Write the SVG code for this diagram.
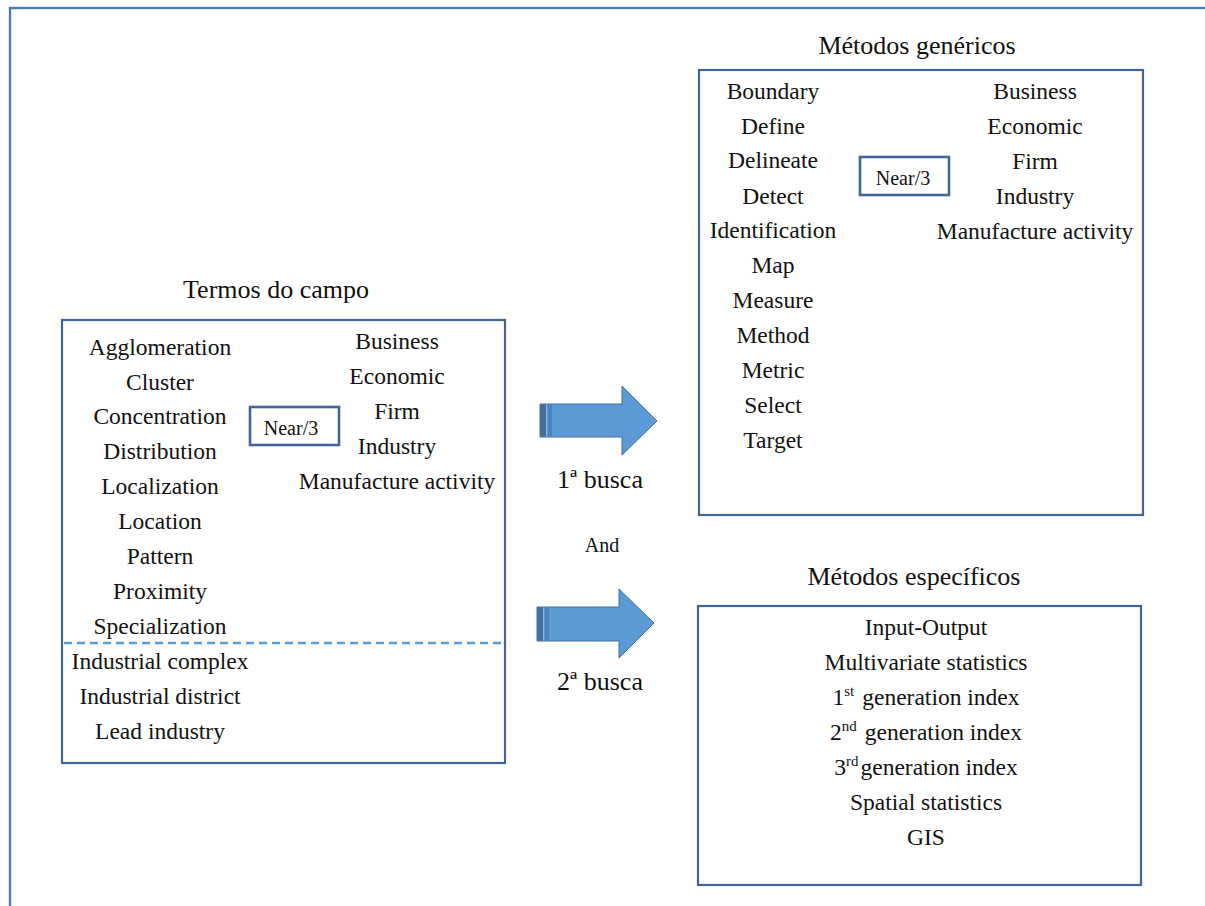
<svg xmlns="http://www.w3.org/2000/svg" width="1205" height="906" viewBox="0 0 1205 906">
<style>
.box{fill:#fff;stroke:#41659a;stroke-width:2.2}
.nbox{fill:#fff;stroke:#41659a;stroke-width:2.6}
text{font-family:'Liberation Serif','DejaVu Serif',serif;fill:#111;text-anchor:middle}
.t{font-size:23.5px}
.ti{font-size:26px}
.s{font-size:20px}
.arrow{fill:#5b9bd5;stroke:#41719c;stroke-width:1}
.stub{fill:#41719c}
</style>
<rect width="1205" height="906" fill="#fff"/>
<g id="frame">
<path d="M10 906 V8 H1205" fill="none" stroke="#4f7bb0" stroke-width="2.4"/>
</g>
<g id="termos">
<text class="ti" x="276" y="298">Termos do campo</text>
<rect class="box" x="62" y="320" width="443" height="443"/>
<line x1="64" y1="643" x2="503" y2="643" stroke="#5b9bd5" stroke-width="2.4" stroke-dasharray="8,5"/>
<text class="t" x="160" y="355">Agglomeration</text>
<text class="t" x="160" y="390">Cluster</text>
<text class="t" x="160" y="424">Concentration</text>
<text class="t" x="160" y="459">Distribution</text>
<text class="t" x="160" y="494">Localization</text>
<text class="t" x="160" y="529">Location</text>
<text class="t" x="160" y="564">Pattern</text>
<text class="t" x="160" y="599">Proximity</text>
<text class="t" x="160" y="634">Specialization</text>
<text class="t" x="160" y="669">Industrial complex</text>
<text class="t" x="160" y="704">Industrial district</text>
<text class="t" x="160" y="739">Lead industry</text>
<text class="t" x="397" y="349">Business</text>
<text class="t" x="397" y="384">Economic</text>
<text class="t" x="397" y="419">Firm</text>
<text class="t" x="397" y="454">Industry</text>
<text class="t" x="397" y="489">Manufacture activity</text>
</g>
<g id="near1">
<rect class="nbox" x="250" y="407" width="89" height="38"/>
<text class="s" x="291" y="435">Near/3</text>
</g>
<g id="genericos">
<text class="ti" x="917" y="54">Métodos genéricos</text>
<rect class="box" x="699" y="70" width="444" height="445"/>
<text class="t" x="773" y="99">Boundary</text>
<text class="t" x="773" y="134">Define</text>
<text class="t" x="773" y="168">Delineate</text>
<text class="t" x="773" y="204">Detect</text>
<text class="t" x="773" y="238">Identification</text>
<text class="t" x="773" y="273">Map</text>
<text class="t" x="773" y="308">Measure</text>
<text class="t" x="773" y="343">Method</text>
<text class="t" x="773" y="378">Metric</text>
<text class="t" x="773" y="413">Select</text>
<text class="t" x="773" y="448">Target</text>
<text class="t" x="1035" y="99">Business</text>
<text class="t" x="1035" y="134">Economic</text>
<text class="t" x="1035" y="169">Firm</text>
<text class="t" x="1035" y="204">Industry</text>
<text class="t" x="1035" y="239">Manufacture activity</text>
</g>
<g id="near2">
<rect class="nbox" x="860" y="157" width="89" height="38"/>
<text class="s" x="903" y="185">Near/3</text>
</g>
<g id="especificos">
<text class="ti" x="914" y="585">Métodos específicos</text>
<rect class="box" x="698" y="606" width="443" height="279"/>
<text class="t" x="926" y="635">Input-Output</text>
<text class="t" x="926" y="670">Multivariate statistics</text>
<text class="t" x="926" y="705">1<tspan font-size="15" dy="-9">st</tspan><tspan dy="9" dx="8">generation index</tspan></text>
<text class="t" x="926" y="740">2<tspan font-size="15" dy="-9">nd</tspan><tspan dy="9" dx="8">generation index</tspan></text>
<text class="t" x="926" y="775">3<tspan font-size="15" dy="-9">rd</tspan><tspan dy="9" dx="2">generation index</tspan></text>
<text class="t" x="926" y="810">Spatial statistics</text>
<text class="t" x="926" y="845">GIS</text>
</g>
<g id="connectors">
<g id="arrow1">
<path class="arrow" d="M540 404 H622 V386 L657 421 L622 455 V437 H540 Z"/>
<rect class="stub" x="540" y="404.5" width="6" height="32"/>
<rect x="546" y="404.5" width="1.5" height="32" fill="#8db7e2"/>
<rect x="547.5" y="404.5" width="4.5" height="32" fill="#4a84bd"/>
<text class="ti" x="600" y="488">1ª busca</text>
</g>
<text class="s" x="602" y="552">And</text>
<g id="arrow2">
<path class="arrow" d="M537 607 H619 V589 L654 623 L619 658 V641 H537 Z"/>
<rect class="stub" x="537" y="607.5" width="6" height="33"/>
<rect x="543" y="607.5" width="1.5" height="33" fill="#8db7e2"/>
<rect x="544.5" y="607.5" width="4.5" height="33" fill="#4a84bd"/>
<text class="ti" x="600" y="690">2ª busca</text>
</g>
</g>
</svg>
